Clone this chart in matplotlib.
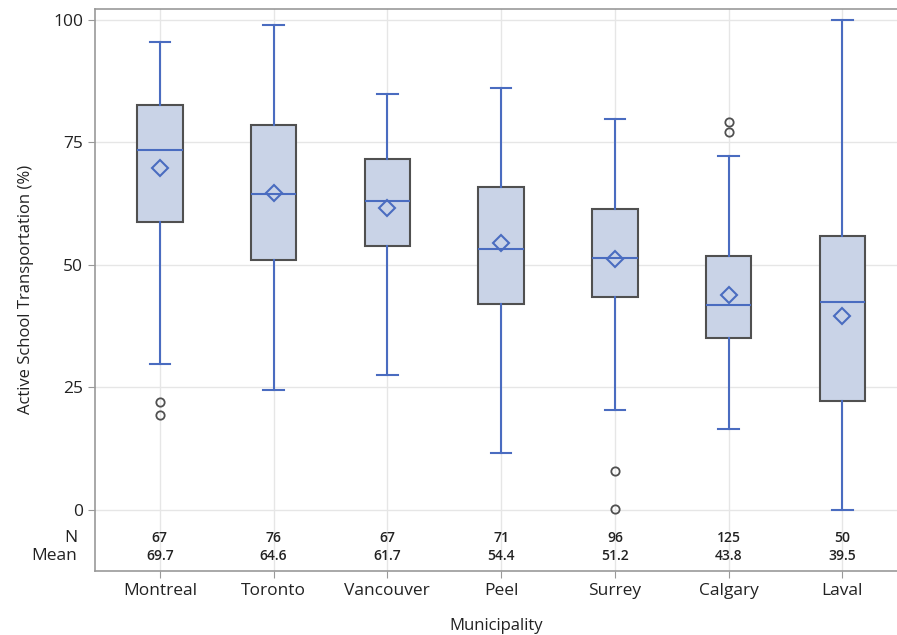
import matplotlib.pyplot as plt

plt.rcParams['font.family'] = ['Open Sans', 'DejaVu Sans']

municipalities = ["Montreal", "Toronto", "Vancouver", "Peel", "Surrey", "Calgary", "Laval"]
whisker_low = [29.7, 24.5, 27.5, 11.7, 20.4, 16.5, 0.0]
q1 = [58.8, 51.0, 53.9, 42.1, 43.5, 35.0, 22.2]
median = [73.5, 64.4, 63.0, 53.3, 51.4, 41.8, 42.5]
q3 = [82.7, 78.6, 71.7, 65.9, 61.5, 51.8, 55.9]
whisker_high = [95.4, 99.0, 84.8, 86.1, 79.8, 72.2, 100.0]
means = [69.7, 64.6, 61.7, 54.4, 51.2, 43.8, 39.5]
n_obs = [67, 76, 67, 71, 96, 125, 50]
outliers = [[22.1, 19.4], [], [], [], [8.0, 0.3], [79.2, 77.1], []]

blue = "#4a6cc0"
fill = "#c9d3e7"
edge = "#505050"
text_col = "#222222"

fig = plt.figure(figsize=(8.97, 6.35), dpi=100)
ax = fig.add_axes([95 / 897, 64 / 635, 1 - 95 / 897, 562.5 / 635])

stats = []
for i, name in enumerate(municipalities):
    stats.append(dict(label=name, whislo=whisker_low[i], q1=q1[i], med=median[i],
                      q3=q3[i], whishi=whisker_high[i], mean=means[i],
                      fliers=outliers[i]))

ax.bxp(stats, positions=range(len(municipalities)), widths=0.4, patch_artist=True,
       showmeans=True, capwidths=0.18,
       boxprops=dict(facecolor=fill, edgecolor=edge, linewidth=1.5),
       whiskerprops=dict(color=blue, linewidth=1.5),
       capprops=dict(color=blue, linewidth=1.5),
       medianprops=dict(color=blue, linewidth=1.5),
       meanprops=dict(marker="D", markerfacecolor="none", markeredgecolor=blue,
                      markersize=8, markeredgewidth=1.5),
       flierprops=dict(marker="o", markerfacecolor="none", markeredgecolor=edge,
                       markersize=6, markeredgewidth=1.3))

ax.set_xlim(-0.57, 6.48)
ax.set_ylim(-12.45, 102.3)
ax.set_yticks([0, 25, 50, 75, 100])
ax.grid(True, color="#e6e6e6", linewidth=1)
ax.set_axisbelow(True)

for side in ["left", "bottom", "top"]:
    ax.spines[side].set_color("#999999")
    ax.spines[side].set_linewidth(1.2)
ax.spines["right"].set_visible(False)
ax.tick_params(colors="#999999", labelcolor=text_col, labelsize=12.5, length=5)

ax.set_xticks(range(len(municipalities)))
ax.set_xticklabels(municipalities)
ax.set_xlabel("Municipality", fontsize=12, color=text_col, labelpad=14)
ax.set_ylabel("Active School Transportation (%)", fontsize=12, color=text_col, labelpad=14)

# N / Mean table inside the bottom of the axes
for i in range(len(municipalities)):
    ax.text(i, -5.7, str(n_obs[i]), ha="center", va="center", fontsize=10,
            color=text_col, fontweight="semibold")
    ax.text(i, -9.4, f"{means[i]:.1f}", ha="center", va="center", fontsize=10,
            color=text_col, fontweight="semibold")
trans = ax.get_yaxis_transform()
ax.text(-0.022, -5.7, "N", transform=trans, ha="right", va="center", fontsize=12.5, color=text_col)
ax.text(-0.022, -9.4, "Mean", transform=trans, ha="right", va="center", fontsize=12.5, color=text_col)

fig.savefig("out.png", dpi=100)
